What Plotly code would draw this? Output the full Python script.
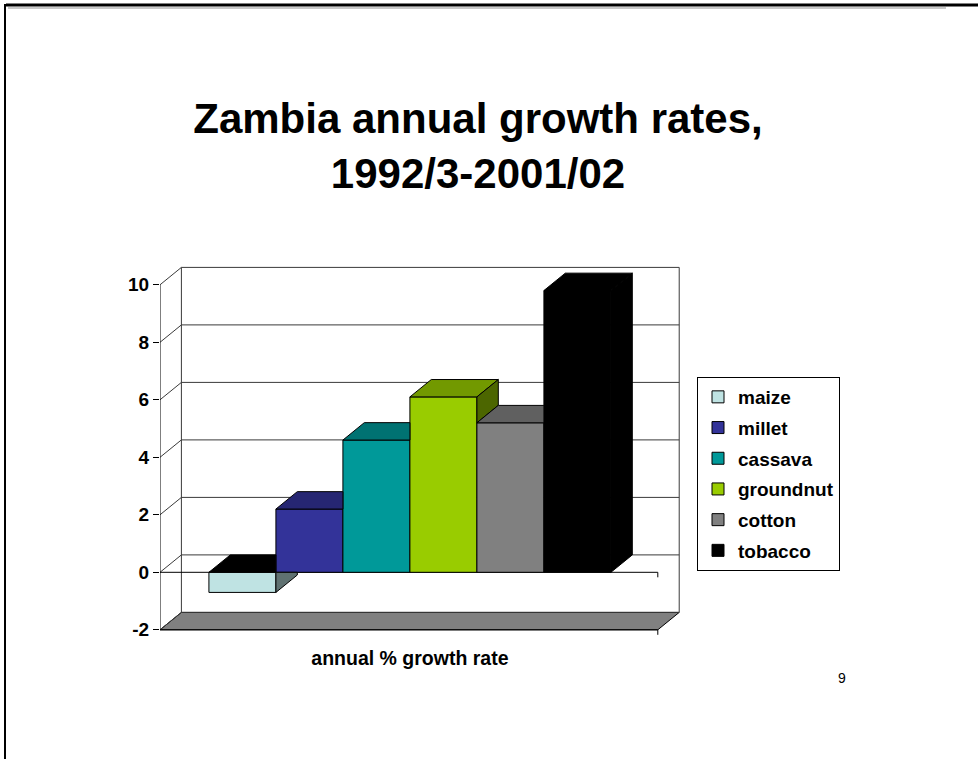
import plotly.graph_objects as go

# ---- data -------------------------------------------------------------
crops = ["maize", "millet", "cassava", "groundnut", "cotton", "tobacco"]
growth = [-0.7, 2.2, 4.6, 6.1, 5.2, 9.8]
colors = ["#BFE3E3", "#333399", "#009999", "#99CC00", "#808080", "#000000"]
category = "annual % growth rate"
y_ticks = [-2, 0, 2, 4, 6, 8, 10]
title_text = "Zambia annual growth rates,<br>1992/3-2001/02"
page_no = "9"

# ---- page / plot-area geometry (pixels) -------------------------------
W, H = 978, 759
ML, MR, MT, MB = 160, 288, 255, 119
PW, PH = W - ML - MR, H - MT - MB
PX_X = 67.0      # pixels per bar slot
PX_Y = 28.75     # pixels per growth-rate unit
X_LO = -0.73
Y_LO = -67.7 / PX_Y
x_range = [X_LO, X_LO + PW / PX_X]
y_range = [Y_LO, Y_LO + PH / PX_Y]

# oblique depth offset of the 3-D box, in axis units
DX = 21.4 / PX_X
DY = 17.4 / PX_Y
XL, XR = X_LO, len(crops) + 0.70
YMIN, YMAX = y_ticks[0], y_ticks[-1]
FONT = "Liberation Sans, Arial, sans-serif"
GRID = "#3a3a3a"


def shade(hex_color, f):
    h = hex_color.lstrip("#")
    r, g, b = (int(h[k:k + 2], 16) for k in (0, 2, 4))
    return "#%02x%02x%02x" % (int(r * f), int(g * f), int(b * f))


def clip_below(poly, c):
    """Keep the part of a polygon whose y is <= c."""
    out = []
    n = len(poly)
    for k in range(n):
        p, q = poly[k], poly[(k + 1) % n]
        pin, qin = p[1] <= c, q[1] <= c
        if pin:
            out.append(p)
        if pin != qin:
            t = (c - p[1]) / (q[1] - p[1])
            out.append((p[0] + t * (q[0] - p[0]), c))
    return out


def px_to_paper(px, py):
    return (px - ML) / PW, (H - MB - py) / PH


fig = go.Figure()

# ---- bars: front faces plus visible top / right faces ------------------
polys = []
for i, (name, v, col) in enumerate(zip(crops, growth, colors)):
    x0, x1 = i, i + 1
    top, bot = max(v, 0), min(v, 0)
    fig.add_trace(go.Bar(
        x=[i + 0.5], y=[v], width=1, name=name, legendgroup=name,
        marker=dict(color=col, line=dict(color="#000000", width=1)),
        hovertemplate=name + ": %{y}<extra></extra>",
    ))

    has_next = i + 1 < len(growth)
    nt = max(growth[i + 1], 0) if has_next else None
    nb = min(growth[i + 1], 0) if has_next else None

    # top face (the face at zero is dark for a negative bar)
    cap_col = "#000000" if v < 0 else shade(col, 0.75)
    if has_next and nt >= top:
        cap = [(x0, top), (x1, top), (x1, top + DY), (x0 + DX, top + DY)]
    else:
        cap = [(x0, top), (x1, top), (x1 + DX, top + DY), (x0 + DX, top + DY)]
    polys.append((name, cap, cap_col))

    # right-hand face, only where the neighbouring bar does not hide it
    side_col = shade(col, 0.5)
    if not has_next:
        polys.append((name, [(x1, bot), (x1, top), (x1 + DX, top + DY),
                             (x1 + DX, bot + DY)], side_col))
    else:
        if top > nt:
            lo = max(nt, bot)
            polys.append((name, [(x1, lo), (x1, top), (x1 + DX, top + DY),
                                 (x1 + DX, lo + DY)], side_col))
        if bot < nb:
            full = [(x1, bot), (x1, top), (x1 + DX, top + DY), (x1 + DX, bot + DY)]
            part = clip_below(full, nb)
            if len(part) >= 3:
                polys.append((name, part, side_col))

for name, poly, col in polys:
    xs = [p[0] for p in poly] + [poly[0][0]]
    ys = [p[1] for p in poly] + [poly[0][1]]
    fig.add_trace(go.Scatter(
        x=xs, y=ys, mode="lines", fill="toself", fillcolor=col,
        line=dict(color="#000000", width=1), legendgroup=name,
        showlegend=False, hoverinfo="skip",
    ))

# ---- 3-D frame: floor, walls, gridlines -------------------------------
shapes = []
floor = [(XL, YMIN), (XR, YMIN), (XR + DX, YMIN + DY), (XL + DX, YMIN + DY)]
shapes.append(dict(
    type="path", xref="x", yref="y", layer="below",
    path="M " + " L ".join(f"{a},{b}" for a, b in floor) + " Z",
    fillcolor="#808080", line=dict(color="#000000", width=1),
))


def seg(xa, ya, xb, yb, color=GRID, width=1):
    return dict(type="line", xref="x", yref="y",
                x0=xa, y0=ya, x1=xb, y1=yb, layer="below",
                line=dict(color=color, width=width))


for t in y_ticks:
    shapes.append(seg(XL + DX, t + DY, XR + DX, t + DY))
    shapes.append(seg(XL, t, XL + DX, t + DY))
shapes.append(seg(XL + DX, YMIN + DY, XL + DX, YMAX + DY))
shapes.append(seg(XR + DX, YMIN + DY, XR + DX, YMAX + DY))
# front value axis and the zero baseline with its end ticks
tick_len = 5 / PX_Y
shapes.append(seg(XL, YMIN, XL, YMAX, "#000000"))
shapes.append(seg(XL, 0, XR, 0, "#000000"))
shapes.append(seg(XR, 0, XR, -tick_len, "#000000"))
shapes.append(seg(XL, YMIN, XR, YMIN, "#000000"))
shapes.append(seg(XR, YMIN, XR, YMIN - tick_len, "#000000"))

# slide border
for (ax, ay), (bx, by), c, w in [
    ((6, 5), (978, 5), "#000000", 3),
    ((5, 4), (5, 759), "#000000", 2),
    ((8, 8), (946, 8), "#c8c8c8", 2),
]:
    pa, qa = px_to_paper(ax, ay)
    pb, qb = px_to_paper(bx, by)
    shapes.append(dict(type="line", xref="paper", yref="paper",
                       x0=pa, y0=qa, x1=pb, y1=qb,
                       line=dict(color=c, width=w)))

lx, ly = px_to_paper(697, 377)
nx, ny = px_to_paper(842, 678)

fig.update_layout(
    width=W, height=H,
    margin=dict(l=ML, r=MR, t=MT, b=MB),
    paper_bgcolor="#ffffff", plot_bgcolor="#ffffff",
    barmode="overlay",
    shapes=shapes,
    title=dict(text=title_text, x=478 / W, xanchor="center",
               y=1 - 133 / H, yanchor="middle", yref="container",
               font=dict(family=FONT, size=42, color="#000000", weight="bold")),
    xaxis=dict(range=x_range, tickvals=[len(crops) / 2], ticktext=[category],
               ticks="", showgrid=False, zeroline=False, showline=False,
               ticklabelstandoff=4,
               tickfont=dict(family=FONT, size=19.5, color="#000000", weight="bold"),
               fixedrange=True),
    yaxis=dict(range=y_range, tickvals=y_ticks,
               ticktext=[str(t) for t in y_ticks],
               ticks="outside", ticklen=6,
               tickcolor="#000000", tickwidth=1, showgrid=False,
               zeroline=False, showline=False,
               tickfont=dict(family=FONT, size=19, color="#000000", weight="bold"),
               fixedrange=True),
    legend=dict(x=lx, y=ly, xanchor="left", yanchor="top",
                bordercolor="#000000", borderwidth=1, bgcolor="#ffffff",
                traceorder="grouped", tracegroupgap=3, itemwidth=30,
                font=dict(family=FONT, size=19, color="#000000", weight="bold")),
    annotations=[dict(text=page_no, x=nx, y=ny, xref="paper", yref="paper",
                      xanchor="center", yanchor="middle",
                      showarrow=False, font=dict(family=FONT, size=14,
                                                 color="#000000"))],
    showlegend=True,
)

fig.write_html("out.html")
